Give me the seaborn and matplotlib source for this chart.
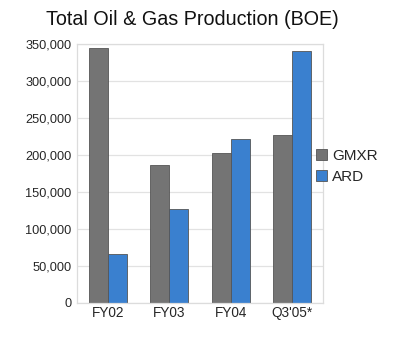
import matplotlib
matplotlib.use("Agg")
import matplotlib.pyplot as plt
import seaborn as sns
import pandas as pd

categories = ["FY02", "FY03", "FY04", "Q3'05*"]
gmxr = [345000, 186000, 203000, 227000]
ard = [66000, 127000, 222000, 340000]
series = ["GMXR", "ARD"]
yticks = [0, 50000, 100000, 150000, 200000, 250000, 300000, 350000]

df = pd.DataFrame({
    "cat": categories * 2,
    "val": gmxr + ard,
    "series": ["GMXR"] * len(categories) + ["ARD"] * len(categories),
})

sns.set_style("white")
plt.rcParams["font.family"] = ["Liberation Sans", "DejaVu Sans"]

fig = plt.figure(figsize=(4.0, 3.47), dpi=100)
ax = fig.add_axes([0.1925, 0.127, 0.615, 0.746])

palette = {"GMXR": "#747474", "ARD": "#3a80cf"}
sns.barplot(data=df, x="cat", y="val", hue="series", hue_order=series,
            palette=palette, width=0.62, ax=ax, saturation=1,
            edgecolor="#555555", linewidth=0.6)

ax.set_ylim(0, 350000)
ax.set_xlim(-0.5, 3.5)
ax.set_yticks(yticks)
ax.set_yticklabels([f"{v:,}" for v in yticks], fontsize=9.2)
ax.tick_params(axis="x", labelsize=9.8, length=0, pad=2)
ax.tick_params(axis="y", length=0, pad=4)
ax.set_xlabel("")
ax.set_ylabel("")
ax.yaxis.grid(True, color="#e2e2e2", linewidth=0.9)
ax.set_axisbelow(True)
for s in ax.spines.values():
    s.set_color("#dcdcdc")
    s.set_linewidth(0.9)

handles, labels = ax.get_legend_handles_labels()
ax.legend(handles, labels, loc="center left", bbox_to_anchor=(0.79, 0.52),
          bbox_transform=fig.transFigure, frameon=False, fontsize=11,
          handlelength=0.75, handleheight=0.75, handletextpad=0.3,
          labelspacing=0.45, borderaxespad=0, borderpad=0)

fig.text(0.48, 0.945, "Total Oil & Gas Production (BOE)", ha="center",
         va="center", fontsize=14.2, color="#111111")

fig.savefig("out.png", dpi=100)
